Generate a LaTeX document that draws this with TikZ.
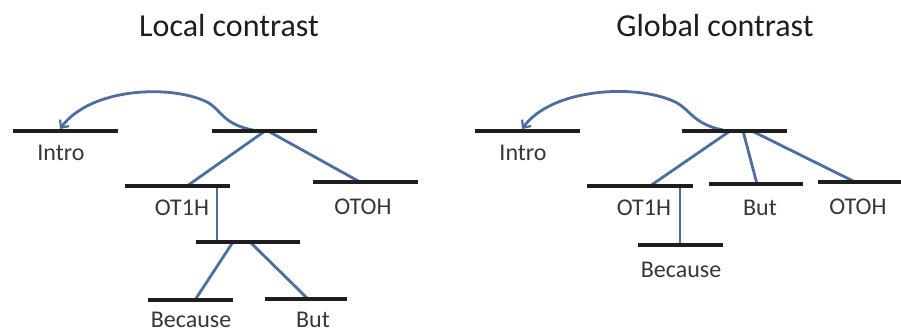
\documentclass[tikz,border=0pt]{standalone}
\usepackage{fontspec}
\setmainfont{Carlito}
\usetikzlibrary{arrows.meta}
\definecolor{barcol}{RGB}{30,30,30}
\definecolor{linkcol}{RGB}{76,110,163}
\definecolor{txtcol}{RGB}{55,55,55}
\begin{document}
\begin{tikzpicture}[x=1pt,y=-1pt,
  bar/.style={draw=barcol,line width=3.4pt},
  link/.style={draw=linkcol,line width=2.8pt},
  hop/.style={link,-{Straight Barb[length=6pt,width=11pt,line width=2.2pt]}},
  lbl/.style={anchor=base,inner sep=0pt,text=txtcol,font=\fontsize{24}{28}\selectfont},
  ttl/.style={anchor=base,inner sep=0pt,text=barcol,font=\fontsize{32}{36}\selectfont}]
\useasboundingbox (0,0) rectangle (901,334);
\fill[white] (0,0) rectangle (901,334);

% ---------- Local contrast ----------
\node[ttl] (ttlL) at (229,37) {Local contrast};

\coordinate (introLa) at (13,131);  \coordinate (introLb) at (118,131);
\coordinate (topLa)   at (212,131); \coordinate (topLb)   at (317,131);
\coordinate (ot1hLa)  at (125,186); \coordinate (ot1hLb)  at (230,186);
\coordinate (otohLa)  at (313,182); \coordinate (otohLb)  at (418,182);
\coordinate (midLa)   at (196,242); \coordinate (midLb)   at (300,242);
\coordinate (becLa)   at (148,300); \coordinate (becLb)   at (233,300);
\coordinate (butLa)   at (265,299); \coordinate (butLb)   at (347,299);

\coordinate (topLj1) at (265,131); \coordinate (topLj2) at (268,131);
\coordinate (ot1hLj) at (187,186); \coordinate (ot1hLv) at (217,186);
\coordinate (otohLj) at (360,182);
\coordinate (midLv)  at (217,242);
\coordinate (midLj1) at (233,242); \coordinate (midLj2) at (250,242);
\coordinate (becLj)  at (195,300); \coordinate (butLj)  at (308,299);
\coordinate (hopLs)  at (253,130); \coordinate (hopLm)  at (207,102);
\coordinate (introLj) at (60,129);

\draw[link] (topLj1) -- (ot1hLj);
\draw[link] (topLj2) -- (otohLj);
\draw[link] (ot1hLv) -- (midLv);
\draw[link] (midLj1) -- (becLj);
\draw[link] (midLj2) -- (butLj);
\draw[hop] (hopLs) .. controls (222,124) and (222,110) .. (hopLm)
           .. controls (170,84) and (90,88) .. (introLj);

\draw[bar] (introLa) -- (introLb);
\draw[bar] (topLa) -- (topLb);
\draw[bar] (ot1hLa) -- (ot1hLb);
\draw[bar] (otohLa) -- (otohLb);
\draw[bar] (midLa) -- (midLb);
\draw[bar] (becLa) -- (becLb);
\draw[bar] (butLa) -- (butLb);

\node[lbl] (introL) at (61,160)  {Intro};
\node[lbl] (ot1hL)  at (182,215) {OT1H};
\node[lbl] (otohL)  at (363,214) {OTOH};
\node[lbl] (becL)   at (191,327) {Because};
\node[lbl] (butL)   at (313,327) {But};

% ---------- Global contrast ----------
\node[ttl] (ttlR) at (715,37) {Global contrast};

\coordinate (introRa) at (475,131); \coordinate (introRb) at (580,131);
\coordinate (topRa)   at (682,131); \coordinate (topRb)   at (787,131);
\coordinate (ot1hRa)  at (587,186); \coordinate (ot1hRb)  at (693,186);
\coordinate (butRa)   at (709,184); \coordinate (butRb)   at (803,184);
\coordinate (otohRa)  at (818,182); \coordinate (otohRb)  at (905,182);
\coordinate (becRa)   at (638,245); \coordinate (becRb)   at (723,245);

\coordinate (topRj1) at (730,131); \coordinate (topRj2) at (743,131);
\coordinate (topRj3) at (752,131);
\coordinate (ot1hRj) at (650,186); \coordinate (ot1hRv) at (680,186);
\coordinate (butRj)  at (757,184); \coordinate (otohRj) at (855,182);
\coordinate (becRv)  at (680,245);
\coordinate (hopRs)  at (723,130); \coordinate (hopRm)  at (673,101);
\coordinate (introRj) at (522,129);

\draw[link] (topRj1) -- (ot1hRj);
\draw[link] (topRj2) -- (butRj);
\draw[link] (topRj3) -- (otohRj);
\draw[link] (ot1hRv) -- (becRv);
\draw[hop] (hopRs) .. controls (692,124) and (690,108) .. (hopRm)
           .. controls (635,84) and (552,88) .. (introRj);

\draw[bar] (introRa) -- (introRb);
\draw[bar] (topRa) -- (topRb);
\draw[bar] (ot1hRa) -- (ot1hRb);
\draw[bar] (butRa) -- (butRb);
\draw[bar] (otohRa) -- (otohRb);
\draw[bar] (becRa) -- (becRb);

\node[lbl] (introR) at (523,160) {Intro};
\node[lbl] (ot1hR)  at (644,215) {OT1H};
\node[lbl] (butR)   at (760,215) {But};
\node[lbl] (otohR)  at (858,214) {OTOH};
\node[lbl] (becR)   at (681,277) {Because};
\end{tikzpicture}
\end{document}
